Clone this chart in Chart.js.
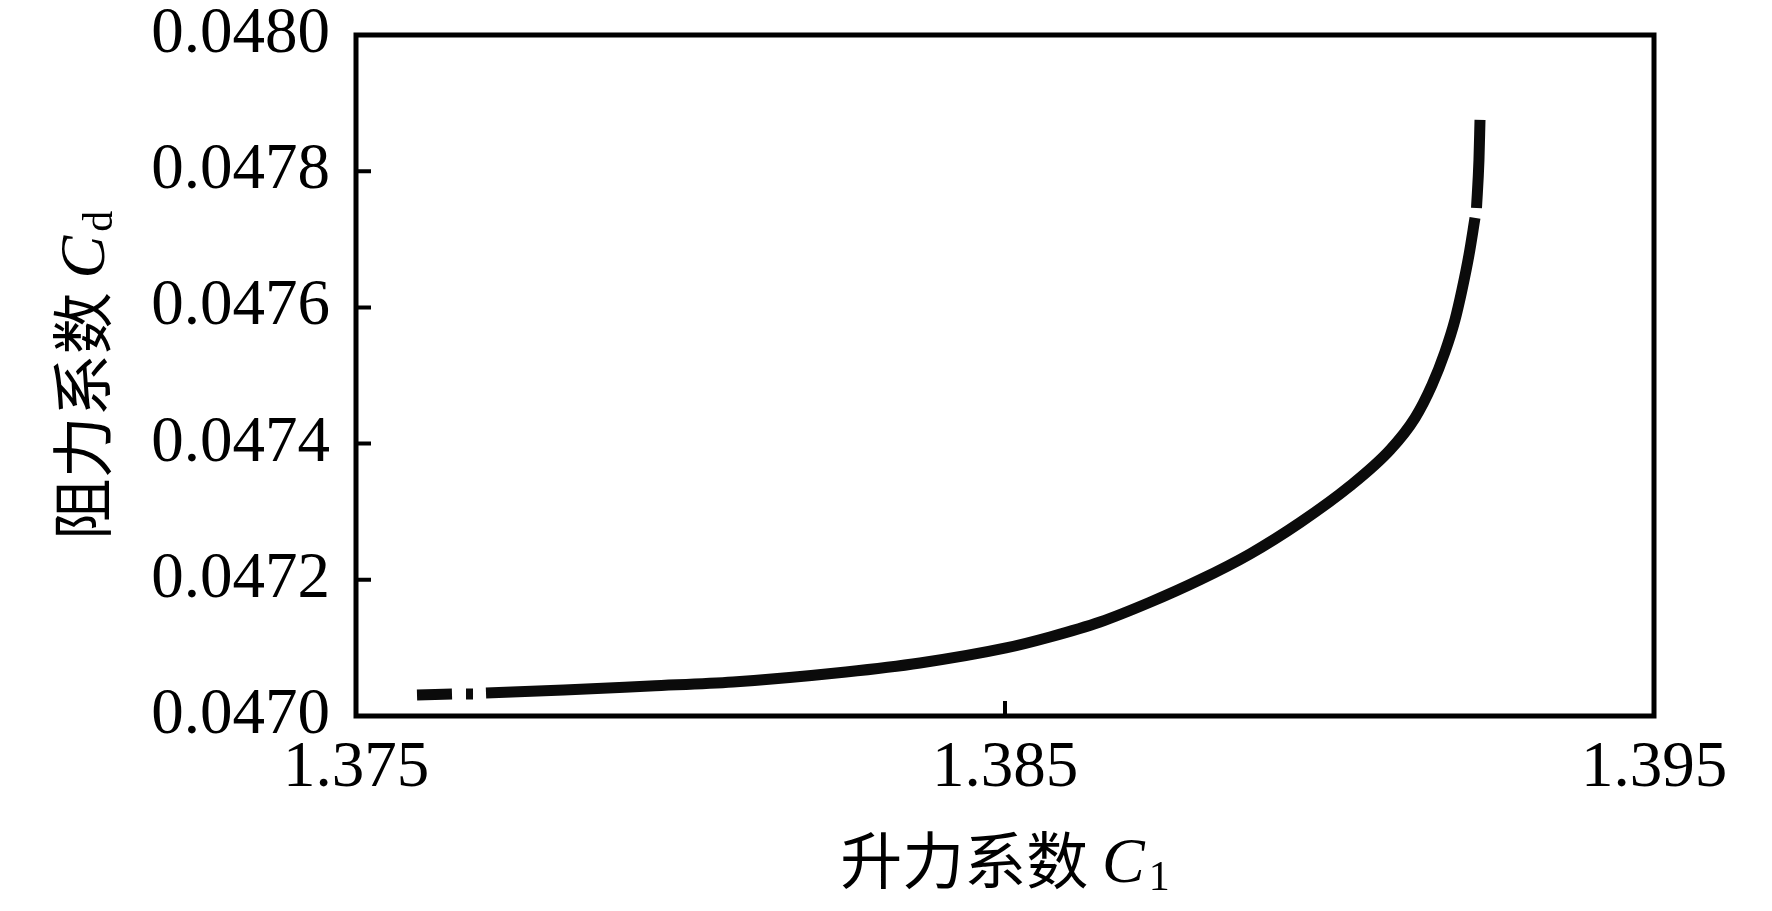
<!DOCTYPE html>
<html>
<head>
<meta charset="utf-8">
<script src="https://cdn.jsdelivr.net/npm/chart.js@4.4.1/dist/chart.umd.min.js"></script>
<style>
html,body{margin:0;padding:0;background:#fff;overflow:hidden;}
#wrap{width:1772px;height:911px;}
</style>
</head>
<body>
<div id="wrap"><canvas id="c" width="1772" height="911"></canvas></div>
<script>
// ---- data ----
const liftCoeff = [
  1.375940, 1.376479, null, 1.376695, 1.376803, null,
  1.377003, 1.378205, 1.379530, 1.380809, 1.382550, 1.383690,
  1.385015, 1.385693, 1.386464, 1.387234, 1.388004, 1.388775,
  1.389545, 1.390316, 1.390932, 1.391317, 1.391579, 1.391779,
  1.391933, 1.392041, 1.392149, 1.392242, null, 1.392265, 1.392303, 1.392319
];
const dragCoeff = [
  0.0470308, 0.0470323, null, 0.0470323, 0.0470323, null,
  0.0470338, 0.0470382, 0.0470441, 0.0470499, 0.0470646, 0.0470778,
  0.0470999, 0.0471160, 0.0471380, 0.0471670, 0.0472000, 0.0472380,
  0.0472840, 0.0473377, 0.0473906, 0.0474376, 0.0474860, 0.0475345,
  0.0475815, 0.0476255, 0.0476769, 0.0477313, null, 0.0477460, 0.0478164, 0.0478752
];
const xTicks = [1.375, 1.385, 1.395];
const yTicks = [0.0470, 0.0472, 0.0474, 0.0476, 0.0478, 0.0480];
const xTitleText = ['升力系数 ', 'C', '1'];
const yTitleText = ['阻力系数 ', 'C', 'd'];

const points = liftCoeff.map((x, i) => ({ x: x, y: dragCoeff[i] }));

const SERIF = '"Liberation Serif", "Times New Roman", serif';
const CJK = '"Noto Sans CJK SC", sans-serif';

function drawTitle(ctx, parts, cx, baseline) {
  const fMain = '62px ' + CJK;
  const fC = 'italic 64px ' + SERIF;
  const fSub = '42px ' + SERIF;
  ctx.font = fMain; const w0 = ctx.measureText(parts[0]).width;
  ctx.font = fC; const w1 = ctx.measureText(parts[1]).width;
  ctx.font = fSub; const w2 = ctx.measureText(parts[2]).width;
  const total = w0 + w1 + 4 + w2;
  let x = cx - total / 2;
  ctx.textBaseline = 'alphabetic';
  ctx.textAlign = 'left';
  ctx.fillStyle = '#000';
  ctx.font = fMain; ctx.fillText(parts[0], x, baseline); x += w0;
  ctx.font = fC; ctx.fillText(parts[1], x, baseline - 2); x += w1 + 4;
  ctx.font = fSub; ctx.fillText(parts[2], x, baseline + 6);
}

const framePlugin = {
  id: 'frame',
  afterDraw(chart) {
    const ctx = chart.ctx;
    const a = chart.chartArea;
    const xs = chart.scales.x, ys = chart.scales.y;
    ctx.save();
    ctx.strokeStyle = '#000';
    ctx.lineWidth = 5;
    ctx.strokeRect(a.left, a.top, a.right - a.left, a.bottom - a.top);
    ctx.lineWidth = 4;
    ctx.beginPath();
    yTicks.forEach(v => {
      if (v > ys.min + 1e-9 && v < ys.max - 1e-9) {
        const py = ys.getPixelForValue(v);
        ctx.moveTo(a.left, py); ctx.lineTo(a.left + 15, py);
      }
    });
    xTicks.forEach(v => {
      if (v > xs.min + 1e-9 && v < xs.max - 1e-9) {
        const px = xs.getPixelForValue(v);
        ctx.moveTo(px, a.bottom); ctx.lineTo(px, a.bottom - 15);
      }
    });
    ctx.stroke();
    drawTitle(ctx, xTitleText, (a.left + a.right) / 2, 884);
    ctx.save();
    ctx.translate(106, (a.top + a.bottom) / 2);
    ctx.rotate(-Math.PI / 2);
    drawTitle(ctx, yTitleText, 0, 0);
    ctx.restore();
    ctx.restore();
  }
};

new Chart(document.getElementById('c'), {
  type: 'scatter',
  data: {
    datasets: [{
      data: points,
      showLine: true,
      borderColor: '#0b0b0b',
      backgroundColor: '#0b0b0b',
      borderWidth: 11,
      pointRadius: 0,
      cubicInterpolationMode: 'monotone',
      spanGaps: false
    }]
  },
  options: {
    responsive: false,
    animation: false,
    devicePixelRatio: 1,
    layout: { padding: { top: 35, right: 118, left: 0, bottom: 0 } },
    plugins: { legend: { display: false }, tooltip: { enabled: false } },
    scales: {
      x: {
        type: 'linear',
        min: 1.375, max: 1.395,
        afterBuildTicks: s => { s.ticks = xTicks.map(v => ({ value: v })); },
        afterFit: s => { s.height = 911 - 716; s.paddingLeft = 0; s.paddingRight = 0; },
        grid: { display: false, drawTicks: false },
        border: { display: false },
        ticks: {
          color: '#000',
          font: { family: SERIF, size: 65 },
          padding: 14,
          maxRotation: 0,
          autoSkip: false,
          callback: v => Number(v).toFixed(3)
        }
      },
      y: {
        type: 'linear',
        min: 0.0470, max: 0.0480,
        afterBuildTicks: s => { s.ticks = yTicks.map(v => ({ value: v })); },
        afterFit: s => { s.width = 356; s.paddingTop = 0; s.paddingBottom = 0; },
        grid: { display: false, drawTicks: false },
        border: { display: false },
        ticks: {
          color: '#000',
          font: { family: SERIF, size: 65 },
          padding: 26,
          autoSkip: false,
          callback: v => Number(v).toFixed(4)
        }
      }
    }
  },
  plugins: [framePlugin]
});
</script>
</body>
</html>
